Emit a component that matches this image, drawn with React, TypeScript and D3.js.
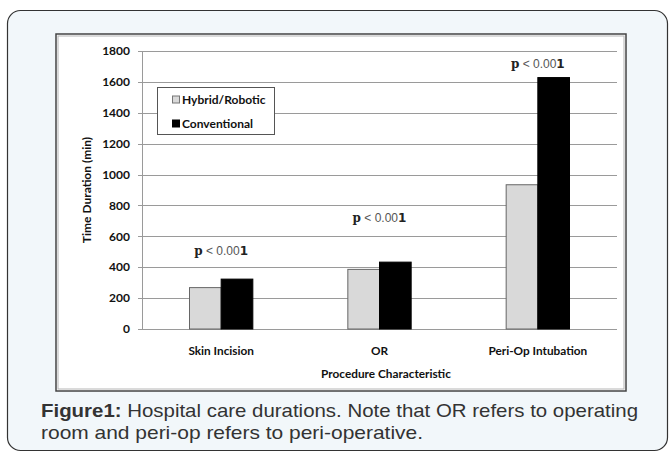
import React from "react";
import * as d3 from "d3";

const categories = ["Skin Incision", "OR", "Peri-Op Intubation"];
const seriesNames = ["Hybrid/Robotic", "Conventional"];
const hybridValues = [268, 386, 934];
const conventionalValues = [323, 433, 1628];
const pLabels = ["p < 0.001", "p < 0.001", "p < 0.001"];
const pLabelValues = [506, 717, 1720];
const yTicks = [0, 200, 400, 600, 800, 1000, 1200, 1400, 1600, 1800];

const W = 670;
const H = 452;
const plot = { left: 142, right: 617, top: 51, bottom: 329 };
const fillColors = ["#d9d9d9", "#000000"];
const labelFont = "Lato, 'Open Sans', sans-serif";

export default function App() {
  const y = d3.scaleLinear().domain([0, 1800]).range([plot.bottom, plot.top]);
  const x = d3
    .scaleBand<string>()
    .domain(categories)
    .range([plot.left, plot.right]);
  const series = [hybridValues, conventionalValues];
  const center = (c: string) => (x(c) as number) + x.bandwidth() / 2;
  const barW = x.bandwidth() * 0.2;

  return (
    <svg
      width={W}
      height={H}
      style={{ position: "absolute", left: 0, top: 0 }}
      viewBox={`0 0 ${W} ${H}`}
    >
      <rect x={0} y={0} width={W} height={H} fill="#ffffff" />
      <rect
        x={7.5}
        y={10.5}
        width={660}
        height={440}
        rx={13}
        ry={13}
        fill="#f2f7fa"
        stroke="#333"
        strokeWidth={1.2}
      />
      {/* chart box */}
      <rect x={56} y={34} width={570} height={357} fill="#fff" stroke="#444" strokeWidth={1.5} />
      <rect x={58} y={36} width={566} height={353} fill="none" stroke="#b5b5b5" strokeWidth={1} />

      {/* gridlines */}
      {yTicks.map((t) => (
        <g key={t}>
          {t > 0 && (
            <line
              x1={plot.left}
              x2={plot.right}
              y1={Math.round(y(t)) + 0.5}
              y2={Math.round(y(t)) + 0.5}
              stroke="#9a9a9a"
              strokeWidth={1}
            />
          )}
          <line
            x1={plot.left - 4}
            x2={plot.left}
            y1={Math.round(y(t)) + 0.5}
            y2={Math.round(y(t)) + 0.5}
            stroke="#9a9a9a"
          />
          <text
            x={130}
            y={y(t)}
            dy="0.35em"
            textAnchor="end"
            fontFamily={labelFont}
            fontWeight={700}
            fontSize={12}
            fill="#111"
          >
            {t}
          </text>
        </g>
      ))}
      {/* axes */}
      <line x1={plot.left + 0.5} x2={plot.left + 0.5} y1={plot.top} y2={plot.bottom} stroke="#9a9a9a" />
      <line
        x1={plot.left}
        x2={plot.right}
        y1={Math.round(plot.bottom) + 0.5}
        y2={Math.round(plot.bottom) + 0.5}
        stroke="#9a9a9a"
      />

      {/* bars */}
      {categories.map((c, i) =>
        series.map((vals, s) => {
          const bx = center(c) - barW + s * barW;
          return (
            <rect
              key={c + s}
              x={bx}
              y={y(vals[i])}
              width={barW}
              height={y(0) - y(vals[i])}
              fill={fillColors[s]}
              stroke={s === 0 ? "#666" : "#000"}
              strokeWidth={1}
            />
          );
        })
      )}

      {/* p labels */}
      {categories.map((c, i) => (
        <text
          key={"p" + c}
          x={center(c)}
          y={y(pLabelValues[i])}
          dy="0.35em"
          textAnchor="middle"
          fontSize={12}
          fill="#222"
        >
          <tspan fontFamily="'DejaVu Serif', serif" fontWeight={700}>{pLabels[i].slice(0, 1)}</tspan>
          <tspan fontFamily="'Liberation Sans', Arial, sans-serif" fill="#555">{pLabels[i].slice(1, 8)}</tspan>
          <tspan fontFamily="'DejaVu Sans', sans-serif" fontWeight={700}>{pLabels[i].slice(8)}</tspan>
        </text>
      ))}

      {/* x labels */}
      {categories.map((c) => (
        <text
          key={"x" + c}
          x={center(c)}
          y={351}
          dy="0.35em"
          textAnchor="middle"
          fontFamily={labelFont}
          fontWeight={700}
          fontSize={11.8}
          fill="#111"
        >
          {c}
        </text>
      ))}
      <text
        x={386}
        y={374}
        dy="0.35em"
        textAnchor="middle"
        fontFamily={labelFont}
        fontWeight={700}
        fontSize={11.8}
        fill="#111"
      >
        Procedure Characteristic
      </text>
      <text
        transform={`translate(87, ${190}) rotate(-90)`}
        textAnchor="middle"
        dy="0.35em"
        fontFamily={labelFont}
        fontWeight={700}
        fontSize={12}
        fill="#111"
      >
        Time Duration (min)
      </text>

      {/* legend */}
      <rect x={157.5} y={87.5} width={117} height={47} fill="#fff" stroke="#555" strokeWidth={1} />
      {seriesNames.map((n, s) => (
        <g key={n}>
          <rect
            x={172.5}
            y={96 + s * 24}
            width={7}
            height={7}
            fill={fillColors[s]}
            stroke={s === 0 ? "#777" : "#000"}
          />
          <text
            x={182}
            y={99.5 + s * 24}
            dy="0.35em"
            fontFamily={labelFont}
            fontWeight={700}
            fontSize={12}
            fill="#111"
          >
            {n}
          </text>
        </g>
      ))}

      {/* caption */}
      <text
        x={41}
        y={417}
        fontFamily="'Liberation Sans', Arial, sans-serif"
        fontSize={18.5}
        fill="#333"
        textLength={597}
        lengthAdjust="spacingAndGlyphs"
      >
        <tspan fontWeight={700}>Figure1:</tspan>
        <tspan> Hospital care durations. Note that OR refers to operating</tspan>
      </text>
      <text
        x={41}
        y={439}
        fontFamily="'Liberation Sans', Arial, sans-serif"
        fontSize={18.5}
        fill="#333"
        textLength={382}
        lengthAdjust="spacingAndGlyphs"
      >
        room and peri-op refers to peri-operative.
      </text>
    </svg>
  );
}
